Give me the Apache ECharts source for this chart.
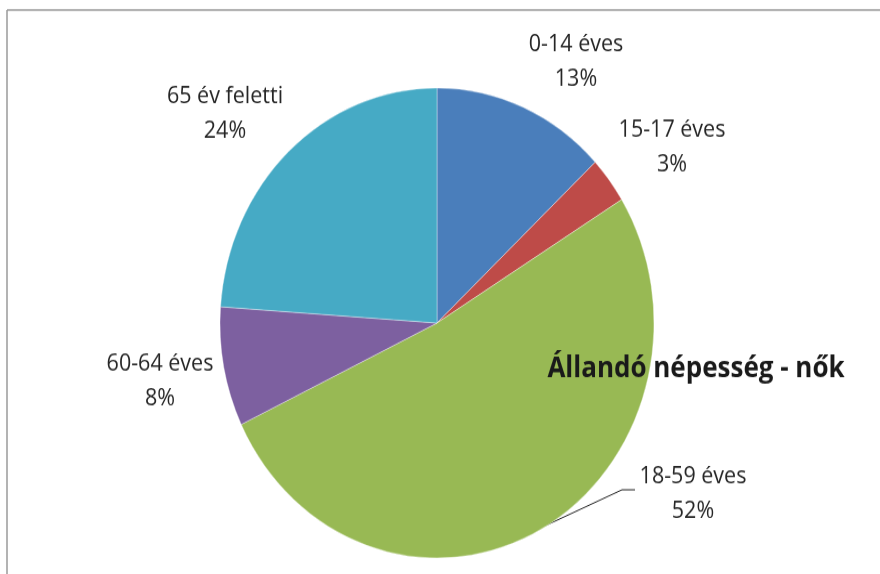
<!DOCTYPE html>
<html>
<head>
<meta charset="utf-8">
<script src="https://cdn.jsdelivr.net/npm/echarts@6/dist/echarts.min.js"></script>
<style>
html,body{margin:0;padding:0;background:#fff;overflow:hidden;}
#wrap{position:relative;width:880px;height:574px;overflow:hidden;background:#fff;}
#chart{position:absolute;left:0;top:0;width:880px;height:574px;transform:scaleY(1.083);transform-origin:0 323px;}
</style>
</head>
<body>
<div id="wrap"><div id="chart"></div></div>
<script>
const titleText = 'Állandó népesség - nők';
const categories = ['0-14 éves', '15-17 éves', '18-59 éves', '60-64 éves', '65 év feletti'];
const values = [13.0, 3.2, 51.7, 8.2, 23.9];
const colors = ['#4A7EBB', '#BE4B48', '#98B954', '#7D60A0', '#46AAC5'];

const labelPos = [[576, 82], [672, 161], [693, 481], [160, 377], [225, 130]];
const linePts = [[541, 512], [622, 477], [635, 477]];

const chart = echarts.init(document.getElementById('chart'), null, {renderer: 'canvas'});
chart.setOption({
  animation: false,
  backgroundColor: 'transparent',
  title: {
    text: titleText,
    left: 691, top: 348,
    textAlign: 'center',
    textStyle: {fontFamily: 'Open Sans', fontWeight: 'bold', fontSize: 26, color: '#1a1a1a'}
  },
  graphic: [
    {type: 'line', shape: {x1: 7, y1: 34, x2: 880, y2: 34}, style: {stroke: '#9a9a9a', lineWidth: 1.5}, silent: true},
    {type: 'line', shape: {x1: 7, y1: 34, x2: 7, y2: 600}, style: {stroke: '#9a9a9a', lineWidth: 1.5}, silent: true}
  ],
  series: [{
    type: 'pie',
    center: [437, 323],
    radius: 217,
    startAngle: 90,
    clockwise: true,
    avoidLabelOverlap: false,
    itemStyle: {borderColor: 'rgba(255,255,255,0.6)', borderWidth: 0.6},
    label: {
      show: true,
      position: 'outside',
      fontFamily: 'Open Sans',
      fontSize: 21.5,
      lineHeight: 32,
      color: '#262626',
      align: 'center',
      formatter: p => p.name + '\n' + Math.round(p.percent) + '%'
    },
    labelLine: {show: true, lineStyle: {color: '#222', width: 1}},
    labelLayout: function (p) {
      const i = p.dataIndex;
      const r = {x: labelPos[i][0], y: labelPos[i][1], align: 'center', verticalAlign: 'middle'};
      if (i === 2) r.labelLinePoints = linePts;
      return r;
    },
    data: categories.map((c, i) => ({
      name: c,
      value: values[i],
      itemStyle: {color: colors[i]},
      labelLine: {show: i === 2}
    }))
  }]
});
</script>
</body>
</html>
